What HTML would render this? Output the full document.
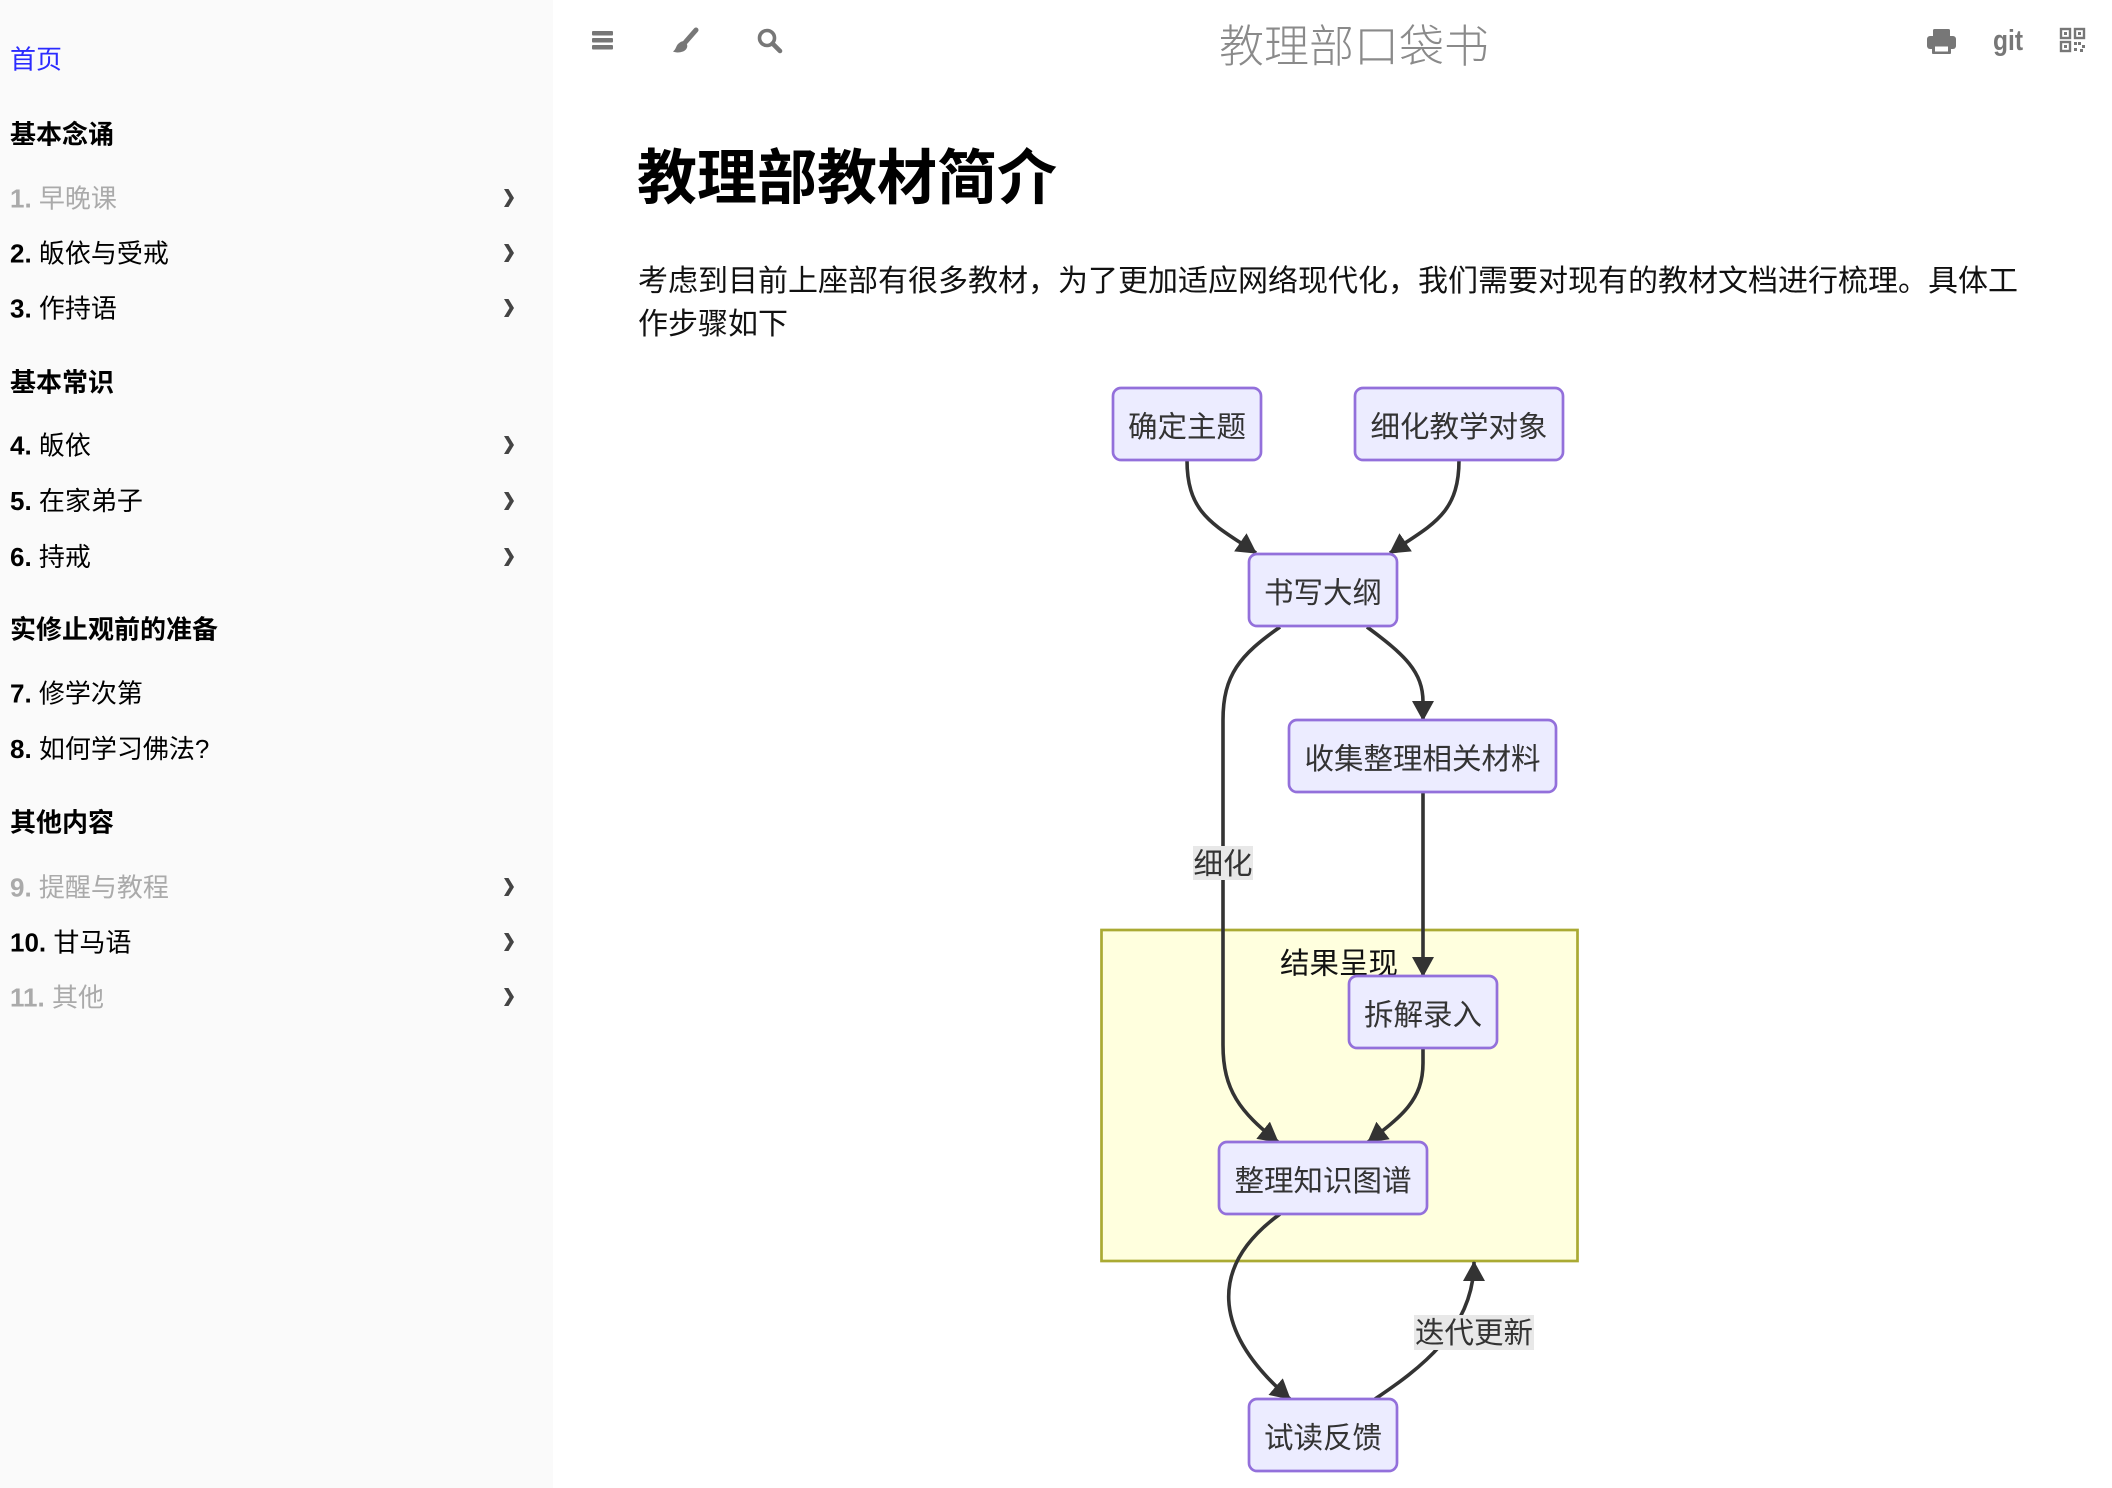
<!DOCTYPE html>
<html lang="zh-CN">
<head>
<meta charset="utf-8">
<title>教理部教材简介</title>
<style>
  html, body { margin: 0; padding: 0; background: #fff; }
  body { width: 2112px; height: 1488px; overflow: hidden; }
  svg { display: block; }
  .f { font-family: "Liberation Sans", "Noto Sans CJK SC", sans-serif; }
</style>
</head>
<body>
<svg width="2112" height="1488" viewBox="0 0 2112 1488" xmlns="http://www.w3.org/2000/svg" class="f">
  <defs>
    <marker id="ah" viewBox="0 0 20 22" refX="19" refY="11" markerWidth="20" markerHeight="22" markerUnits="userSpaceOnUse" orient="auto">
      <path d="M0,0 L20,11 L0,22 z" fill="#333"/>
    </marker>
  </defs>

  <!-- backgrounds -->
  <rect x="0" y="0" width="2112" height="1488" fill="#ffffff"/>
  <rect x="0" y="0" width="553" height="1488" fill="#fafafa"/>

  <!-- ===== Sidebar ===== -->
  <g font-size="26" fill="#000">
    <text x="10" y="68.5" fill="#2b2bff">首页</text>

    <text x="10" y="143.5" font-weight="bold">基本念诵</text>
    <text x="10" y="207.5" fill="#aaaaaa"><tspan font-weight="bold">1.</tspan> 早晚课</text>
    <text x="10" y="262.5"><tspan font-weight="bold">2.</tspan> 皈依与受戒</text>
    <text x="10" y="317.5"><tspan font-weight="bold">3.</tspan> 作持语</text>

    <text x="10" y="391.5" font-weight="bold">基本常识</text>
    <text x="10" y="454.5"><tspan font-weight="bold">4.</tspan> 皈依</text>
    <text x="10" y="510">
<tspan font-weight="bold">5.</tspan> 在家弟子</text>
    <text x="10" y="566"><tspan font-weight="bold">6.</tspan> 持戒</text>

    <text x="10" y="638.5" font-weight="bold">实修止观前的准备</text>
    <text x="10" y="702.5"><tspan font-weight="bold">7.</tspan> 修学次第</text>
    <text x="10" y="758"><tspan font-weight="bold">8.</tspan> 如何学习佛法?</text>

    <text x="10" y="831.5" font-weight="bold">其他内容</text>
    <text x="10" y="896.5" fill="#aaaaaa"><tspan font-weight="bold">9.</tspan> 提醒与教程</text>
    <text x="10" y="951.5"><tspan font-weight="bold">10.</tspan> 甘马语</text>
    <text x="10" y="1006.5" fill="#aaaaaa"><tspan font-weight="bold">11.</tspan> 其他</text>
  </g>

  <!-- chevrons -->
  <g fill="#444">
    <polygon points="504,189 508.5,189 514,198 508.5,207 504,207 509.5,198"/>
    <polygon points="504,244 508.5,244 514,253 508.5,262 504,262 509.5,253"/>
    <polygon points="504,299 508.5,299 514,308 508.5,317 504,317 509.5,308"/>
    <polygon points="504,436 508.5,436 514,445 508.5,454 504,454 509.5,445"/>
    <polygon points="504,492 508.5,492 514,501 508.5,510 504,510 509.5,501"/>
    <polygon points="504,548 508.5,548 514,557 508.5,566 504,566 509.5,557"/>
    <polygon points="504,878 508.5,878 514,887 508.5,896 504,896 509.5,887"/>
    <polygon points="504,933 508.5,933 514,942 508.5,951 504,951 509.5,942"/>
    <polygon points="504,988 508.5,988 514,997 508.5,1006 504,1006 509.5,997"/>
  </g>

  <!-- ===== Header ===== -->
  <g fill="#777">
    <!-- hamburger -->
    <rect x="592" y="31" width="21" height="4.5" rx="1"/>
    <rect x="592" y="38" width="21" height="4.5" rx="1"/>
    <rect x="592" y="45" width="21" height="4.5" rx="1"/>
    <!-- brush -->
    <line x1="696" y1="30" x2="685.5" y2="42" stroke="#777" stroke-width="5" stroke-linecap="round"/>
    <path d="M684,41 C689,44 688,49.5 683,51.5 C679,53 675,52.5 673,51.5 C676,49.5 676,46 678,44 C680,42 682,41 684,41 Z"/>
    <!-- search -->
    <circle cx="767" cy="38" r="7.5" fill="none" stroke="#777" stroke-width="3.6"/>
    <line x1="772.5" y1="43.5" x2="780" y2="51" stroke="#777" stroke-width="4.6" stroke-linecap="round"/>
  </g>

  <text x="1219" y="62" font-size="45" font-weight="300" fill="#8a8a8a">教理部口袋书</text>

  <g fill="#777">
    <!-- printer -->
    <rect x="1933" y="29" width="17" height="9" rx="1.5"/>
    <rect x="1927" y="36" width="29" height="13" rx="3"/>
    <rect x="1932" y="44" width="19" height="10" rx="1"/>
    <rect x="1935" y="46.5" width="13" height="5" fill="#fff"/>
    <!-- git -->
    <text x="1993" y="50" font-size="29" font-weight="bold" textLength="30" lengthAdjust="spacingAndGlyphs">git</text>
    <!-- qr -->
    <g transform="translate(-4,0)">
      <rect x="2065" y="29" width="9" height="9" fill="none" stroke="#777" stroke-width="2.4"/>
      <rect x="2068" y="32" width="3" height="3"/>
      <rect x="2079" y="29" width="9" height="9" fill="none" stroke="#777" stroke-width="2.4"/>
      <rect x="2082" y="32" width="3" height="3"/>
      <rect x="2065" y="42" width="9" height="9" fill="none" stroke="#777" stroke-width="2.4"/>
      <rect x="2068" y="45" width="3" height="3"/>
      <rect x="2078" y="42" width="3" height="3"/>
      <rect x="2082" y="42" width="3" height="3"/>
      <rect x="2086" y="45" width="3" height="3"/>
      <rect x="2078" y="48" width="3" height="3"/>
      <rect x="2084" y="49" width="3" height="3"/>
    </g>
  </g>

  <!-- ===== Content ===== -->
  <text x="637" y="199" font-size="60" font-weight="bold" fill="#000">教理部教材简介</text>
  <g font-size="30" fill="#111">
    <text x="638" y="291">考虑到目前上座部有很多教材，为了更加适应网络现代化，我们需要对现有的教材文档进行梳理。具体工</text>
    <text x="638" y="334">作步骤如下</text>
  </g>

  <!-- ===== Diagram ===== -->
  <!-- subgraph -->
  <rect x="1101.5" y="930" width="476" height="331" fill="#ffffde" stroke="#aaaa33" stroke-width="2.7"/>
  <text x="1339" y="973.5" font-size="29.5" fill="#111" text-anchor="middle">结果呈现</text>

  <!-- edges -->
  <g fill="none" stroke="#333" stroke-width="3.6" marker-end="url(#ah)">
    <path d="M1187,460 C1187,515 1215,525 1256,553"/>
    <path d="M1459,460 C1459,515 1431,525 1390,553"/>
    <path d="M1280,627 C1240,655 1223,675 1223,720 L1223,1045 C1223,1090 1240,1112 1278,1142"/>
    <path d="M1367,627 C1405,655 1423,672 1423,702 L1423,720"/>
    <path d="M1423,792 L1423,976"/>
    <path d="M1423,1048 L1423,1063 C1423,1100 1402,1116 1368,1142"/>
    <path d="M1280,1214 C1210,1265 1210,1330 1290,1399"/>
    <path d="M1375,1399 C1418,1370 1474,1330 1474,1262"/>
  </g>

  <!-- edge labels -->
  <rect x="1193" y="846" width="60" height="34" fill="#e8e8e8"/>
  <text x="1223" y="874" font-size="29.5" fill="#333" text-anchor="middle">细化</text>
  <rect x="1414" y="1315" width="120" height="35" fill="#e8e8e8"/>
  <text x="1474" y="1343" font-size="29.5" fill="#333" text-anchor="middle">迭代更新</text>

  <!-- nodes -->
  <g fill="#ECECFF" stroke="#9370DB" stroke-width="2.7">
    <rect x="1113" y="388" width="148" height="72" rx="8"/>
    <rect x="1355" y="388" width="208" height="72" rx="8"/>
    <rect x="1249" y="554" width="148" height="72" rx="8"/>
    <rect x="1289" y="720" width="267" height="72" rx="8"/>
    <rect x="1349" y="976" width="148" height="72" rx="8"/>
    <rect x="1219" y="1142" width="208" height="72" rx="8"/>
    <rect x="1249" y="1399" width="148" height="72" rx="8"/>
  </g>
  <g font-size="29.5" fill="#333" text-anchor="middle">
    <text x="1187" y="437">确定主题</text>
    <text x="1459" y="437">细化教学对象</text>
    <text x="1323" y="603">书写大纲</text>
    <text x="1422.5" y="769">收集整理相关材料</text>
    <text x="1423" y="1025">拆解录入</text>
    <text x="1323" y="1191">整理知识图谱</text>
    <text x="1323" y="1448">试读反馈</text>
  </g>
</svg>
</body>
</html>
